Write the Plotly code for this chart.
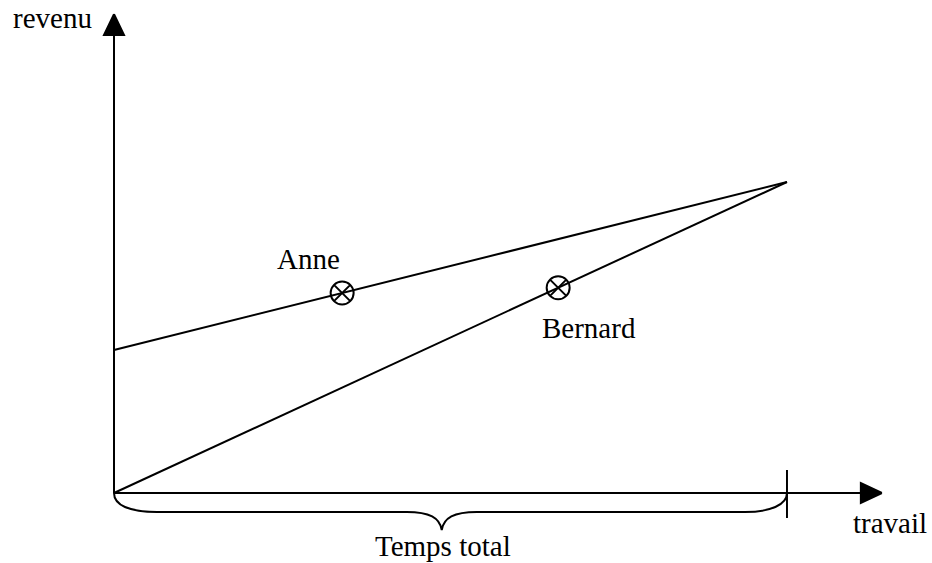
import plotly.graph_objects as go

# ---- data (abstract units) ----
temps_total = 10.0          # x where the two budget lines meet
revenu_max = 10.0           # revenue at full work time
anne_intercept = 4.6        # Anne's non-labour income
persons = ["Anne", "Bernard"]
person_travail = [3.39, 6.6]
x_axis_end = 11.41
y_axis_end = 15.4
brace_pointe = 4.87
axis_labels = ["revenu", "travail"]
brace_label = "Temps total"

# ---- canvas ----
W, H = 932, 563
x_range = [-1.694, 12.155]
y_range = [-2.251, 15.852]
sx = W / (x_range[1] - x_range[0])
sy = H / (y_range[1] - y_range[0])
def dx(p): return p / sx
def dy(p): return p / sy

anne_slope = (revenu_max - anne_intercept) / temps_total
bernard_slope = revenu_max / temps_total
person_revenu = [anne_intercept + anne_slope * person_travail[0],
                 bernard_slope * person_travail[1]]

LW = 2
BLK = "black"
FONT = dict(family="Liberation Serif, Times New Roman, serif", size=29, color=BLK)

fig = go.Figure()

def line(x, y, fill=None):
    fig.add_trace(go.Scatter(x=x, y=y, mode="lines", line=dict(color=BLK, width=LW),
                             fill=fill, fillcolor=BLK if fill else None,
                             hoverinfo="skip", showlegend=False))

# axes
line([0, 0], [0, y_axis_end - dy(18)])
line([0, x_axis_end - dx(18)], [0, 0])
# arrowheads
line([0, -dx(10), dx(10), 0], [y_axis_end, y_axis_end - dy(21), y_axis_end - dy(21), y_axis_end], fill="toself")
line([x_axis_end, x_axis_end - dx(21), x_axis_end - dx(21), x_axis_end], [0, dy(10), -dy(10), 0], fill="toself")
# tick at total time
line([temps_total, temps_total], [-dy(25), dy(23)])

# budget lines
line([0, temps_total], [anne_intercept, revenu_max])
line([0, temps_total], [0, revenu_max])

# points
fig.add_trace(go.Scatter(x=person_travail, y=person_revenu, mode="markers",
                         marker=dict(symbol="circle-x-open", size=23, color=BLK, line=dict(width=2, color=BLK)),
                         hoverinfo="skip", showlegend=False))

# brace
d = dy(19)
tip = dy(37)
path = (f"M 0,0 C 0,{-dy(12)} {dx(15)},{-d} {dx(43)},{-d} "
        f"L {brace_pointe - dx(35)},{-d} "
        f"C {brace_pointe - dx(12)},{-d} {brace_pointe - dx(2)},{-dy(25)} {brace_pointe},{-tip} "
        f"C {brace_pointe + dx(2)},{-dy(25)} {brace_pointe + dx(12)},{-d} {brace_pointe + dx(35)},{-d} "
        f"L {temps_total - dx(42)},{-d} "
        f"C {temps_total - dx(17)},{-d} {temps_total},{-dy(12)} {temps_total},0")
fig.add_shape(type="path", path=path, xref="x", yref="y", line=dict(color=BLK, width=LW))

# labels
ann = [
    dict(x=0, y=y_axis_end, text=axis_labels[0], xshift=-62, yshift=-4),
    dict(x=x_axis_end, y=0, text=axis_labels[1], xshift=8, yshift=-30),
    dict(x=person_travail[0], y=person_revenu[0], text=persons[0], xshift=-34, yshift=34),
    dict(x=person_travail[1], y=person_revenu[1], text=persons[1], xshift=31, yshift=-40),
    dict(x=brace_pointe, y=0, text=brace_label, xshift=1, yshift=-53),
]
for a in ann:
    fig.add_annotation(xref="x", yref="y", showarrow=False, font=FONT,
                       xanchor="center", yanchor="middle", **a)

fig.update_layout(width=W, height=H, margin=dict(l=0, r=0, t=0, b=0),
                  plot_bgcolor="white", paper_bgcolor="white",
                  xaxis=dict(range=x_range, visible=False, fixedrange=True),
                  yaxis=dict(range=y_range, visible=False, fixedrange=True))
fig.write_html("out.html", config={"displayModeBar": False, "staticPlot": True},
               post_script="document.body.style.margin='0';document.body.style.overflow='hidden';")
